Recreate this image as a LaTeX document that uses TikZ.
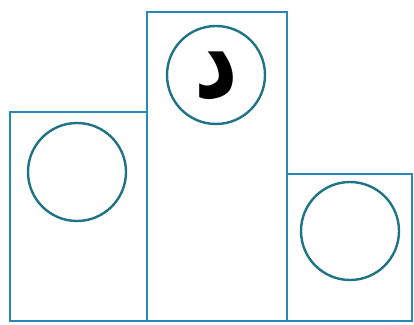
\documentclass[tikz,border=0pt]{standalone}
\usepackage{fontspec}
\newfontfamily\arabicfont[Script=Arabic]{DejaVu Sans}
\TeXXeTstate=1
\usepackage{xcolor}
\definecolor{boxline}{HTML}{2A88B8}
\definecolor{ringline}{HTML}{1F7386}
\usetikzlibrary{positioning, calc}

\begin{document}
\begin{tikzpicture}[
        x=1pt, y=1pt,
        podium/.style={
            rectangle,
            draw=boxline,
            line width=2.4pt,
            anchor=south west,
            inner sep=0pt
        },
        ring/.style={
            circle,
            draw=ringline,
            line width=2.4pt,
            minimum size=98pt,
            inner sep=0pt
        }
    ]
    \useasboundingbox (0,0) rectangle (414,324);

    % Podium steps
    \node[podium, minimum width=137pt, minimum height=209pt] (second) at (9,2) {};
    \node[podium, minimum width=140pt, minimum height=309pt] (first) at (146,2) {};
    \node[podium, minimum width=125pt, minimum height=147pt] (third) at (286,2) {};

    % Places
    \node[ring] (second_ring) at (77,152) {};
    \node[ring] (first_ring) at (216,249) {};
    \node[ring] (third_ring) at (350,93) {};

    % Letter in the first place
    \node[inner sep=0pt] (letter) at ($(first_ring.center)+(0,-1)$) {\scalebox{0.85}[1.1]{\arabicfont\bfseries\fontsize{100}{100}\selectfont\beginR د\endR}};

\end{tikzpicture}
\end{document}
